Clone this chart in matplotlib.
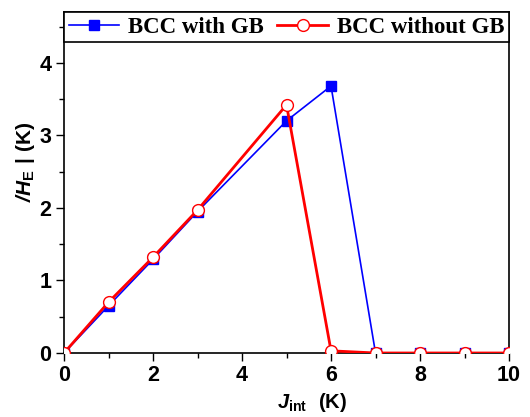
import matplotlib
matplotlib.use("Agg")
import matplotlib.pyplot as plt
from matplotlib.ticker import MultipleLocator

# Exchange energy |H_E| versus interlayer coupling J_int
j_int = [0, 1, 2, 3, 5, 6, 7, 8, 9, 10]
he_with_gb = [0.0, 0.65, 1.29, 1.95, 3.20, 3.68, 0.0, 0.0, 0.0, 0.0]
he_without_gb = [0.0, 0.70, 1.32, 1.97, 3.42, 0.03, 0.0, 0.0, 0.0, 0.0]
series_labels = ["BCC with GB", "BCC without GB"]

plt.rcParams["mathtext.fontset"] = "custom"
plt.rcParams["mathtext.rm"] = "Liberation Sans:bold"
plt.rcParams["mathtext.bf"] = "Liberation Sans:bold"
plt.rcParams["mathtext.it"] = "Liberation Sans:italic:bold"
plt.rcParams["mathtext.bfit"] = "Liberation Sans:italic:bold"

fig = plt.figure(figsize=(5.30, 4.17), dpi=100)
ax = fig.add_axes([0.1208, 0.1535, 0.9604 - 0.1208, 0.9712 - 0.1535])

ax.plot(j_int, he_with_gb, color="#0000ff", lw=1.2, marker="s", ms=7,
        mfc="#0000ff", mec="#0000ff", label=series_labels[0], zorder=3)
ax.plot(j_int, he_without_gb, color="#ff0000", lw=2.0, marker="o", ms=8.5,
        mfc="white", mec="#ff0000", mew=1.0, label=series_labels[1], zorder=4)

ax.set_xlim(0, 10)
ax.set_ylim(0, 4.70)
ax.xaxis.set_major_locator(MultipleLocator(2))
ax.xaxis.set_minor_locator(MultipleLocator(1))
ax.yaxis.set_major_locator(MultipleLocator(1))
ax.yaxis.set_minor_locator(MultipleLocator(0.5))
ax.tick_params(which="both", direction="out", top=False, right=False, width=1.0)
ax.tick_params(which="major", length=6, pad=3)
ax.tick_params(which="minor", length=3.5)
for lbl in ax.get_xticklabels() + ax.get_yticklabels():
    lbl.set_fontfamily("Liberation Sans")
    lbl.set_fontweight("bold")
    lbl.set_fontsize(15.5)
for sp in ax.spines.values():
    sp.set_linewidth(1.2)

ax.set_xlabel(r"$\mathbfit{J}_{\mathbf{int}}\ \mathbf{\ (K)}$", fontsize=14.5)
ax.set_ylabel(r"$\mathbfit{/H}_{\mathbf{E}}\ \mathbf{|\ (K)}$", fontsize=15)
ax.xaxis.set_label_coords(0.557, -0.112)
ax.yaxis.set_label_coords(-0.060, 0.56)

leg = ax.legend(loc="upper left", bbox_to_anchor=(0, 1, 1, 0), mode="expand",
                ncol=2, borderaxespad=0, fancybox=False, framealpha=1,
                edgecolor="black", handlelength=2.2, handletextpad=0.4,
                columnspacing=0.5, borderpad=0.2,
                prop={"family": "Liberation Serif", "weight": "bold", "size": 16.5})
leg.get_frame().set_linewidth(1.2)

fig.savefig("out.png", dpi=100)
